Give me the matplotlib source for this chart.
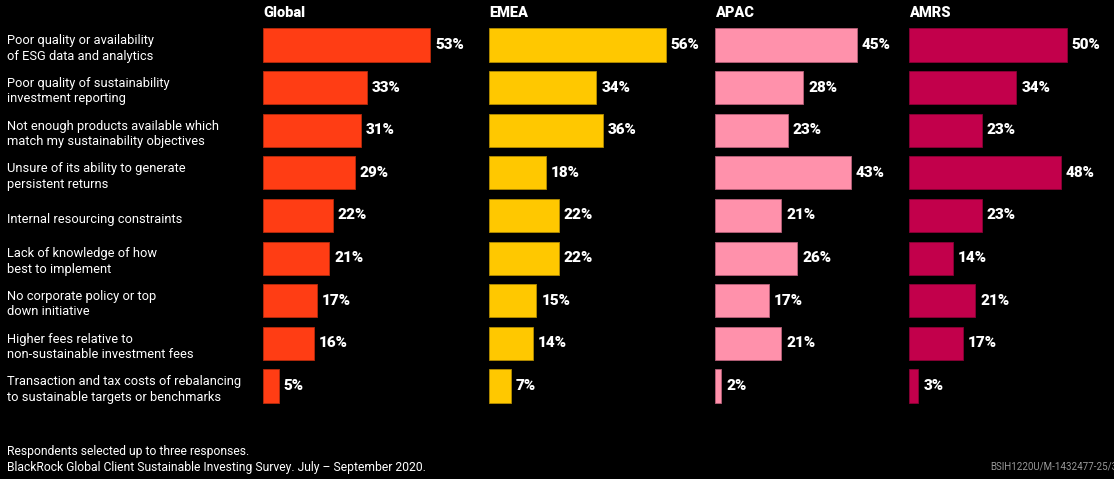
import matplotlib
matplotlib.use("Agg")
import matplotlib.pyplot as plt

categories = [
    "Poor quality or availability\nof ESG data and analytics",
    "Poor quality of sustainability\ninvestment reporting",
    "Not enough products available which\nmatch my sustainability objectives",
    "Unsure of its ability to generate\npersistent returns",
    "Internal resourcing constraints",
    "Lack of knowledge of how\nbest to implement",
    "No corporate policy or top\ndown initiative",
    "Higher fees relative to\nnon-sustainable investment fees",
    "Transaction and tax costs of rebalancing\nto sustainable targets or benchmarks",
]
regions = ["Global", "EMEA", "APAC", "AMRS"]
global_vals = [53, 33, 31, 29, 22, 21, 17, 16, 5]
emea_vals = [56, 34, 36, 18, 22, 22, 15, 14, 7]
apac_vals = [45, 28, 23, 43, 21, 26, 17, 21, 2]
amrs_vals = [50, 34, 23, 48, 23, 14, 21, 17, 3]
colors = ["#ff3d14", "#ffc800", "#ff91ab", "#c2004b"]
edges = ["#b82a0c", "#b38c00", "#b8607a", "#8a0035"]

W, H = 1114, 479
fig = plt.figure(figsize=(W / 100, H / 100), dpi=100)
fig.patch.set_facecolor("black")
plt.rcParams["font.family"] = ["Roboto", "DejaVu Sans"]

px_per_pct = 3.16
lefts = [263, 489, 715, 909]
widths = [222, 222, 190, 205]
top_px, bot_px = 23.7, 407.3

data = [global_vals, emea_vals, apac_vals, amrs_vals]
n = len(categories)
for i, (name, vals) in enumerate(zip(regions, data)):
    ax = fig.add_axes([lefts[i] / W, 1 - bot_px / H, widths[i] / W, (bot_px - top_px) / H])
    ax.set_facecolor("black")
    ax.barh(range(n), vals, height=0.775, color=colors[i], edgecolor=edges[i], linewidth=0.6)
    for j, v in enumerate(vals):
        ax.annotate(f"{v}%", (v, j), xytext=(3.5, 0), textcoords="offset points",
                    va="center", ha="left", color="white", fontsize=11, fontweight="black")
    ax.set_xlim(0, widths[i] / px_per_pct)
    ax.set_ylim(n - 0.5, -0.5)
    ax.axis("off")
    fig.text(lefts[i] / W, 1 - 13 / H, name, color="white", fontsize=10.5,
             fontweight="black", ha="left", va="center")

row_h = (bot_px - top_px) / n
for j, label in enumerate(categories):
    y = top_px + row_h * (j + 0.5) + 3.5
    fig.text(7 / W, 1 - y / H, label, color="white", fontsize=9.3,
             ha="left", va="center", linespacing=1.25)

fig.text(7 / W, 1 - 452 / H, "Respondents selected up to three responses.",
         color="white", fontsize=8.7, ha="left", va="center")
fig.text(7 / W, 1 - 468 / H, "BlackRock Global Client Sustainable Investing Survey. July \u2013 September 2020.",
         color="white", fontsize=8.7, ha="left", va="center")
fig.text(990 / W, 1 - 467 / H, "BSIH1220U/M-1432477-25/35", color="#999999",
         fontsize=7, ha="left", va="center")

fig.savefig("out.png", dpi=100, facecolor="black")
